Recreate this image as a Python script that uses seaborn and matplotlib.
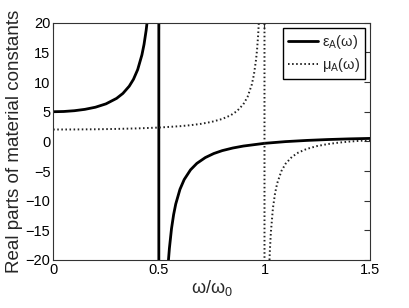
import numpy as np
import pandas as pd
import matplotlib
matplotlib.use('Agg')
import matplotlib.pyplot as plt
import seaborn as sns

# values
omega_eps = [0, 0.05, 0.1, 0.15, 0.2, 0.25, 0.3, 0.33, 0.36, 0.38, 0.40, 0.42, 0.43,
             0.44, 0.445, 0.45, 0.46, 0.47, 0.48, 0.49, 0.499, 0.501, 0.51, 0.52, 0.53,
             0.54, 0.545, 0.55, 0.56, 0.57, 0.58, 0.60, 0.62, 0.65, 0.68, 0.72, 0.76,
             0.8, 0.85, 0.9, 1.0, 1.1, 1.2, 1.3, 1.4, 1.5]
eps_A = [5.0, 5.04, 5.17, 5.40, 5.76, 6.33, 7.25, 8.09, 9.31, 10.47, 12.11, 14.59, 16.36,
         18.73, 20.24, 22.05, 27.04, 35.36, 52.02, 102.0, 1001.0, -998.0, -98.0, -48.02, -31.36,
         -23.04, -20.27, -18.05, -14.72, -12.35, -10.57, -8.09, -6.44, -4.80, -3.71, -2.73, -2.05,
         -1.56, -1.12, -0.79, -0.33, -0.04, 0.16, 0.31, 0.42, 0.50]

omega_mu = [0, 0.1, 0.2, 0.3, 0.4, 0.5, 0.6, 0.65, 0.7, 0.75, 0.8, 0.84, 0.87, 0.9, 0.92,
            0.94, 0.95, 0.96, 0.965, 0.97, 0.975, 0.98, 0.99, 0.999, 1.001, 1.01, 1.02,
            1.025, 1.03, 1.04, 1.05, 1.06, 1.08, 1.1, 1.13, 1.16, 1.2, 1.25, 1.3, 1.35,
            1.4, 1.45, 1.5]
mu_A = [2.0, 2.01, 2.04, 2.10, 2.19, 2.33, 2.56, 2.73, 2.96, 3.29, 3.78, 4.40, 5.11, 6.26, 7.51,
        9.59, 11.26, 13.76, 15.54, 17.92, 21.25, 26.25, 51.25, 501.3, -498.8, -48.75, -23.75,
        -18.75, -15.42, -11.25, -8.76, -7.09, -5.01, -3.76, -2.61, -1.89, -1.27, -0.78, -0.45, -0.22,
        -0.04, 0.09, 0.20]

x_ticks = [0, 0.5, 1, 1.5]
x_tick_labels = ['0', '0.5', '1', '1.5']
y_ticks = [-20, -15, -10, -5, 0, 5, 10, 15, 20]

sns.set_style('white')
plt.rcParams['font.family'] = ['Liberation Sans', 'DejaVu Sans']
plt.rcParams['mathtext.fontset'] = 'custom'
plt.rcParams['mathtext.rm'] = 'Liberation Sans'
plt.rcParams['mathtext.it'] = 'Liberation Sans'
plt.rcParams['mathtext.default'] = 'rm'

fig = plt.figure(figsize=(4.09, 3.08), dpi=100)
ax = fig.add_axes([0.130, 0.156, 0.775, 0.770])

df_eps = pd.DataFrame({'omega': omega_eps, 'val': eps_A})
df_mu = pd.DataFrame({'omega': omega_mu, 'val': mu_A})

sns.lineplot(data=df_eps, x='omega', y='val', sort=False, estimator=None, ax=ax,
             color='black', linewidth=2.0, label='ε$_A$(ω)')
sns.lineplot(data=df_mu, x='omega', y='val', sort=False, estimator=None, ax=ax,
             color='#222222', linewidth=1.4, linestyle=(0, (0.8, 1.3)), label='μ$_A$(ω)')

ax.set_xlim(0, 1.5)
ax.set_ylim(-20, 20)
ax.set_xticks(x_ticks)
ax.set_xticklabels(x_tick_labels)
ax.set_yticks(y_ticks)
ax.tick_params(direction='in', length=4, width=0.8, top=True, right=True,
               labelsize=10.5, colors='#333333', labelcolor='black', pad=2)
for sp in ax.spines.values():
    sp.set_color('#333333')
    sp.set_linewidth(0.8)

ax.set_xlabel('ω/ω$_0$', fontsize=13, labelpad=1)
ax.set_ylabel('Real parts of material constants', fontsize=13.5, labelpad=2)

leg = ax.legend(loc='upper right', fontsize=10.5, frameon=True, fancybox=False,
                borderaxespad=0.35, handlelength=2.0, handletextpad=0.3,
                borderpad=0.35, labelspacing=0.35)
leg.get_frame().set_edgecolor('black')
leg.get_frame().set_linewidth(1.0)
leg.get_frame().set_alpha(1)

fig.savefig('out.png', dpi=100)
